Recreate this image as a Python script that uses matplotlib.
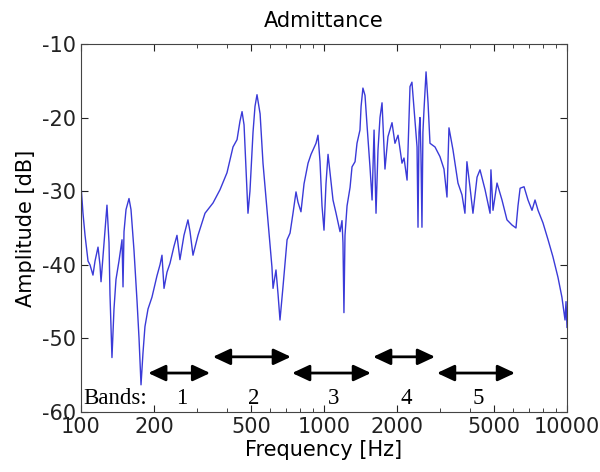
import numpy as np
import matplotlib
matplotlib.use("Agg")
import matplotlib.pyplot as plt
from matplotlib.ticker import FixedLocator, NullFormatter

plt.rcParams["axes.unicode_minus"] = False

# Admittance curve (Hz, dB)
freq_hz = [
    100, 101.9, 103.9, 106.9, 108.9, 112.0, 114.2, 117.5, 119.7, 120.9,
    124.4, 127.9, 130.4, 131.6, 134.1, 136.7, 139.3, 143.3, 147.5, 148.9,
    150.3, 153.2, 157.6, 160.6, 165.2, 170.1, 173.3, 176.6, 179.9, 183.3,
    188.7, 195.9, 205.4, 211.4, 215.4, 219.6, 225.9, 232.4, 241.3, 248.3,
    255.4, 265.3, 275.5, 281, 289, 303, 323.8, 349.4, 373.3, 398.8,
    422.2, 438.7, 451, 460, 468.8, 477.5, 486.6, 495.8, 510.4, 520,
    530, 545.8, 561, 588, 610.6, 617, 634.5, 647, 659, 678,
    704.7, 724.8, 745.5, 767, 781.6, 803.9, 827.6, 859.7, 884.3, 909.6,
    927, 944.7, 963, 981.3, 1000, 1019, 1039, 1058.5, 1089, 1121,
    1164, 1186, 1197, 1208, 1220, 1244, 1280, 1304, 1342, 1367,
    1406, 1421, 1446, 1475, 1503, 1546, 1577, 1607, 1637, 1668,
    1700, 1733, 1782, 1833, 1905, 1959, 2017, 2094, 2134, 2197,
    2238, 2259, 2301, 2367, 2415, 2437, 2460, 2483, 2506, 2530,
    2553, 2579, 2630, 2680, 2730, 2863, 3000, 3117, 3207, 3268,
    3395, 3559, 3697, 3802, 3874, 3990, 4102, 4264, 4385, 4600,
    4823, 4864, 4960, 5152, 5401, 5662, 5938, 6166, 6285, 6413,
    6656, 6910, 7178, 7386, 7600, 7963, 8357, 8750, 9180, 9530,
    9815, 9907, 10000,
]
amp_db = [
    -29.2, -33, -36, -39.5, -40, -41.4, -39.5, -37.6, -40, -42.3,
    -37, -31.9, -37, -44, -52.6, -46, -42, -39.5, -36.6, -43,
    -35.5, -32.5, -31, -32.5, -38, -45, -50, -56.3, -52, -48.4,
    -46, -44.4, -41.5, -40, -38.7, -43.2, -41, -39.8, -37.5, -36,
    -39.3, -36, -33.9, -35.5, -38.7, -36, -33, -31.6, -29.8, -27.5,
    -24, -23, -20.5, -19.2, -21, -27, -33, -30, -22, -18.5,
    -16.9, -19.5, -26.2, -34, -40.3, -43.2, -40.7, -44, -47.5, -43,
    -36.6, -35.7, -33, -30.1, -31.5, -32.8, -29, -26.2, -25, -24.1,
    -23.5, -22.4, -26, -32, -35.3, -29, -25, -27.5, -31.2, -33,
    -35.5, -34, -37, -46.5, -36, -32, -29.5, -26.7, -26, -23.5,
    -21.7, -18.5, -16, -17, -21, -26.7, -31.2, -21.7, -33, -24.4,
    -20, -18, -27, -22.6, -20.7, -23.5, -22.4, -26.2, -25.5, -28.5,
    -20, -15.8, -15.2, -20.3, -24, -34.9, -22, -20, -25, -34.9,
    -22, -19, -13.8, -18, -23.5, -24, -25.3, -27, -30.8, -21.4,
    -24.4, -28.9, -30.5, -33, -26, -29.5, -33, -28.1, -27.1, -29.8,
    -33, -27.1, -32.6, -28.9, -31.2, -33.9, -34.6, -35, -32, -29.6,
    -29.4, -31.2, -32.6, -31.2, -32.6, -34.3, -36.6, -38.9, -41.7, -44.4,
    -47.5, -45, -48.5,
]

# Frequency bands (start, end in Hz) and the height of each arrow (dB)
band_labels = ["1", "2", "3", "4", "5"]
band_start_hz = [189, 349, 739, 1592, 2917]
band_end_hz = [340, 731, 1561, 2864, 6111]
band_arrow_db = [-54.7, -52.5, -54.7, -52.5, -54.7]

x_ticks = [100, 200, 500, 1000, 2000, 5000, 10000]
y_ticks = [-60, -50, -40, -30, -20, -10]

fig = plt.figure(figsize=(6.0, 4.72), dpi=100)
ax = fig.add_axes([0.135, 0.127, 0.81, 0.78])

ax.semilogx(freq_hz, amp_db, color="#3a3ad8", linewidth=1.0)

for s, e, yv in zip(band_start_hz, band_end_hz, band_arrow_db):
    ax.annotate(
        "",
        xy=(e, yv),
        xytext=(s, yv),
        arrowprops=dict(
            arrowstyle="<|-|>,head_length=0.75,head_width=0.35",
            color="black",
            lw=2.0,
            shrinkA=0,
            shrinkB=0,
            mutation_scale=14,
        ),
    )

serif = ["Liberation Serif", "DejaVu Serif"]
ax.text(102.5, -58.2, "Bands:", family=serif, fontsize=16.5, ha="left", va="center")
for lab, s, e in zip(band_labels, band_start_hz, band_end_hz):
    ax.text(np.sqrt(s * e) * 1.02, -58.2, lab, family=serif, fontsize=16.5,
            ha="center", va="center")

ax.set_xlim(100, 10000)
ax.set_ylim(-60, -10)
ax.xaxis.set_major_locator(FixedLocator(x_ticks))
ax.set_xticklabels([str(t) for t in x_ticks])
ax.xaxis.set_minor_formatter(NullFormatter())
ax.set_yticks(y_ticks)
ax.tick_params(which="both", direction="in", top=True, right=True,
               labelsize=15, colors="#222222")
ax.tick_params(which="major", length=5)
ax.tick_params(which="minor", length=3)
for sp in ax.spines.values():
    sp.set_color("#444444")
    sp.set_linewidth(0.8)

ax.set_title("Admittance", fontsize=15, pad=12)
ax.set_xlabel("Frequency [Hz]", fontsize=15, labelpad=2)
ax.set_ylabel("Amplitude [dB]", fontsize=15, labelpad=4)

fig.savefig("out.png", dpi=100, facecolor="white")
